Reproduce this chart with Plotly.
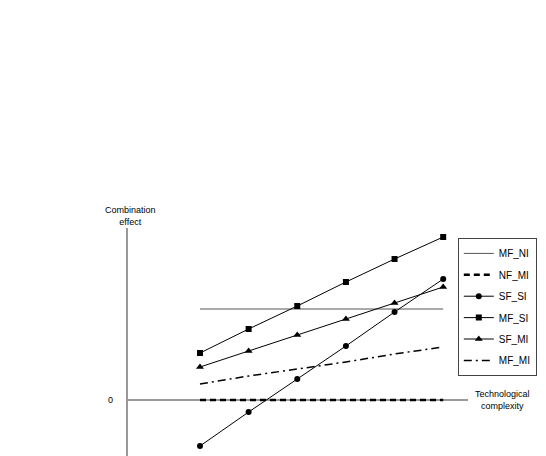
import plotly.graph_objects as go

# technological complexity levels (x positions of the points)
complexity = [1, 2, 3, 4, 5, 6]

# combination effect per scenario (0 = x axis)
mf_ni = [9.1, 9.1, 9.1, 9.1, 9.1, 9.1]
nf_mi = [0, 0, 0, 0, 0, 0]
sf_si = [-4.6, -1.2, 2.1, 5.4, 8.8, 12.1]
mf_si = [4.7, 7.1, 9.4, 11.8, 14.1, 16.3]
sf_mi = [3.3, 4.9, 6.5, 8.1, 9.7, 11.3]
mf_mi = [1.6, 2.4, 3.1, 3.8, 4.6, 5.3]

FONT = "Liberation Sans, Arial, sans-serif"

fig = go.Figure()

fig.add_trace(go.Scatter(x=complexity, y=mf_ni, name="MF_NI", mode="lines",
                         legendgroup="a", line=dict(color="#555555", width=1)))
fig.add_trace(go.Scatter(x=complexity, y=nf_mi, name="NF_MI", mode="lines",
                         legendgroup="b",
                         line=dict(color="black", width=2.5, dash="6px,4px")))
fig.add_trace(go.Scatter(x=complexity, y=sf_si, name="SF_SI", mode="lines+markers",
                         legendgroup="c", line=dict(color="black", width=1),
                         marker=dict(symbol="circle", size=6, color="black")))
fig.add_trace(go.Scatter(x=complexity, y=mf_si, name="MF_SI", mode="lines+markers",
                         legendgroup="d", line=dict(color="black", width=1),
                         marker=dict(symbol="square", size=6, color="black")))
fig.add_trace(go.Scatter(x=complexity, y=sf_mi, name="SF_MI", mode="lines+markers",
                         legendgroup="e", line=dict(color="black", width=1),
                         marker=dict(symbol="triangle-up", size=7, color="black")))
fig.add_trace(go.Scatter(x=complexity, y=mf_mi, name="MF_MI", mode="lines",
                         legendgroup="f",
                         line=dict(color="black", width=1.5, dash="8px,4px,2px,4px")))

# page body adds an 8px offset, so the figure origin is at screen (8, 8)
fig.update_layout(
    width=546, height=456,
    margin=dict(l=120, r=86, t=220, b=0, autoexpand=False),
    paper_bgcolor="white", plot_bgcolor="white",
    font=dict(family=FONT, size=9, color="black"),
    showlegend=True,
    legend=dict(x=0.97, xanchor="left", y=0.958, yanchor="top",
                bordercolor="#444444", borderwidth=1, bgcolor="white",
                font=dict(size=10, color="black"), itemwidth=30,
                tracegroupgap=2.4),
    xaxis=dict(range=[-0.48, 6.51], showgrid=False, zeroline=False,
               showticklabels=False, ticks="", showline=False),
    yaxis=dict(range=[-6.4, 17.2], showgrid=False, zeroline=True,
               zerolinecolor="#999999", zerolinewidth=1.5,
               showline=True, linecolor="#999999", linewidth=1.5,
               showticklabels=False, ticks=""),
    annotations=[
        dict(text="Combination<br>effect", xref="paper", yref="paper",
             x=0.006, y=1.0, xanchor="center", yanchor="bottom", yshift=-1,
             showarrow=False, font=dict(size=9, color="black")),
        dict(text="0", xref="paper", yref="y", x=0, y=0, xanchor="right",
             xshift=-13, showarrow=False, font=dict(size=9, color="black")),
        dict(text="Technological<br>complexity", xref="paper", yref="y",
             x=1, y=0, xanchor="left", xshift=5, showarrow=False,
             font=dict(size=9, color="black")),
    ],
)

fig.write_html("out.html")
